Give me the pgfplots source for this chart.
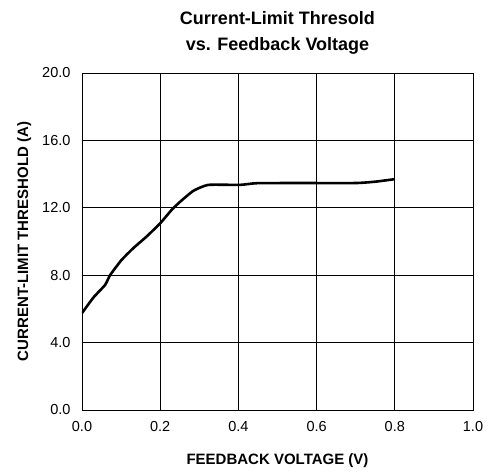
\documentclass[border=0pt]{standalone}
\usepackage{fontspec}
\setmainfont{Liberation Sans}
\usepackage{pgfplots}
\pgfplotsset{compat=1.18}
\begin{document}
\begin{tikzpicture}
\begin{axis}[
  scale only axis,
  width=391pt, height=337pt,
  at={(0,0)}, anchor=south west,
  xmin=0, xmax=1, ymin=0, ymax=20,
  xtick={0,0.2,...,1.0}, ytick={0,4,...,20},
  grid=major,
  major grid style={black, line width=0.8pt},
  axis line style={black, line width=0.9pt},
  tick style={draw=none},
  /pgf/number format/assume math mode=true,
  /pgf/number format/fixed,
  /pgf/number format/fixed zerofill,
  /pgf/number format/precision=1,
  ticklabel style={font=\fontsize{14.5}{17}\selectfont},
  xticklabel style={yshift=-8pt},
  yticklabel style={xshift=-8pt},
  xlabel={\textbf{FEEDBACK VOLTAGE (V)}},
  ylabel={\textbf{CURRENT-LIMIT THRESHOLD (A)}},
  label style={font=\fontsize{15}{18}\selectfont},
  xlabel style={at={(axis description cs:0.5,-0.151)}, anchor=center},
  ylabel style={at={(axis description cs:-0.148,0.5)}, anchor=center},
  title={\textbf{Current-Limit Thresold}\\\textbf{vs. Feedback Voltage}},
  title style={font=\fontsize{18}{26}\selectfont, align=center, at={(axis description cs:0.5,1.100)}, anchor=center},
]
\addplot[black, line width=2.6pt, smooth, tension=0.3] coordinates {
(0.000,5.75) (0.029,6.67) (0.059,7.42) (0.072,8.01) (0.101,8.90) (0.131,9.60)
(0.165,10.29) (0.200,11.08) (0.229,11.87) (0.251,12.36) (0.285,13.01) (0.323,13.36)
(0.404,13.36) (0.447,13.46) (0.550,13.47) (0.700,13.47) (0.750,13.55) (0.800,13.70)
};
\end{axis}
\path (-82pt,-60pt) rectangle (408pt,410pt);
\end{tikzpicture}
\end{document}
